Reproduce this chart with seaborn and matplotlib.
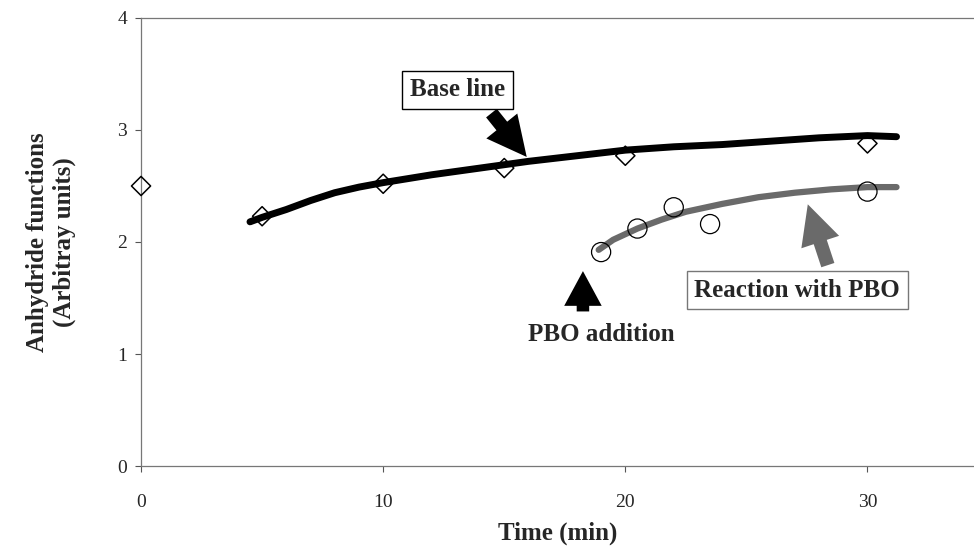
"""
Anhydride functions vs time, base line and reaction with PBO
Output: out.png
"""

import pandas as pd
import matplotlib.pyplot as plt
import seaborn as sns

# ── data ─────────────────────────────────────────────────────────────────────
base_t = [0, 5, 10, 15, 20, 30]
base_y = [2.50, 2.23, 2.52, 2.66, 2.77, 2.88]

pbo_t = [19.0, 20.5, 22.0, 23.5, 30.0]
pbo_y = [1.91, 2.12, 2.31, 2.16, 2.45]

# drawn trend curves
base_curve_t = [4.5, 5, 6, 7, 8, 9, 10, 12, 14, 16, 18, 20, 22, 24, 26, 28, 30, 31.2]
base_curve_y = [2.18, 2.22, 2.29, 2.37, 2.44, 2.49, 2.53, 2.60, 2.66, 2.72,
                2.77, 2.82, 2.85, 2.87, 2.90, 2.93, 2.95, 2.94]

pbo_curve_t = [18.9, 19.5, 20.5, 21.5, 22.5, 24, 25.5, 27, 28.5, 30, 31.2]
pbo_curve_y = [1.93, 2.02, 2.12, 2.20, 2.27, 2.34, 2.40, 2.44, 2.47, 2.49, 2.49]

sns.set_style("ticks")
plt.rcParams["font.family"] = ["Liberation Serif", "DejaVu Serif"]

fig = plt.figure(figsize=(9.74, 5.48), dpi=100)
ax = fig.add_axes([0.1448, 0.1496, 0.8552, 0.8176])

df_bc = pd.DataFrame({"t": base_curve_t, "y": base_curve_y})
df_pc = pd.DataFrame({"t": pbo_curve_t, "y": pbo_curve_y})
sns.lineplot(data=df_bc, x="t", y="y", ax=ax, color="black", linewidth=5,
             sort=True, estimator=None)
sns.lineplot(data=df_pc, x="t", y="y", ax=ax, color="#6a6a6a", linewidth=4.5,
             sort=True, estimator=None)

df_b = pd.DataFrame({"t": base_t, "y": base_y})
df_p = pd.DataFrame({"t": pbo_t, "y": pbo_y})
sns.scatterplot(data=df_b, x="t", y="y", ax=ax, marker="D", s=95,
                facecolor="none", edgecolor="black", linewidth=1.1, zorder=3,
                clip_on=False)
sns.scatterplot(data=df_p, x="t", y="y", ax=ax, marker="o", s=190,
                facecolor="none", edgecolor="black", linewidth=0.9, zorder=3)

ax.set_xlim(0, 34.4)
ax.set_ylim(0, 4)
ax.set_xticks([0, 10, 20, 30])
ax.set_yticks([0, 1, 2, 3, 4])
ax.tick_params(axis="both", labelsize=14, length=4, width=0.8, color="#555555")
ax.tick_params(axis="x", pad=16)
ax.tick_params(axis="y", pad=6)

for side in ["left", "bottom", "top"]:
    ax.spines[side].set_color("#777777")
    ax.spines[side].set_linewidth(0.9)
ax.spines["right"].set_visible(False)

ax.set_xlabel("Time (min)", fontsize=18, fontweight="bold")
ax.xaxis.set_label_coords(0.5, -0.125)
ax.set_ylabel("Anhydride functions\n(Arbitray units)", fontsize=18,
              fontweight="bold", labelpad=30)

# ── annotations ──────────────────────────────────────────────────────────────
ax.annotate("", xy=(16.0, 2.74), xytext=(14.4, 3.17),
            arrowprops=dict(arrowstyle="simple,head_width=1.3,head_length=1.3,tail_width=0.45",
                            mutation_scale=22, color="black", lw=0))
ax.text(13.07, 3.36, "Base line", fontsize=18, fontweight="bold", ha="center",
        va="center",
        bbox=dict(boxstyle="square,pad=0.3", facecolor="white",
                  edgecolor="black", linewidth=1.0))

ax.annotate("", xy=(27.5, 2.36), xytext=(28.4, 1.77),
            arrowprops=dict(arrowstyle="simple,head_width=1.3,head_length=1.3,tail_width=0.45",
                            mutation_scale=22, color="#6a6a6a", lw=0))
ax.text(27.1, 1.57, "Reaction with PBO", fontsize=18, fontweight="bold",
        ha="center", va="center",
        bbox=dict(boxstyle="square,pad=0.3", facecolor="white",
                  edgecolor="#777777", linewidth=1.0))

ax.annotate("", xy=(18.25, 1.74), xytext=(18.25, 1.38),
            arrowprops=dict(arrowstyle="simple,head_width=1.35,head_length=1.25,tail_width=0.45",
                            mutation_scale=20, color="black", lw=0,
                            shrinkA=0, shrinkB=0))
ax.text(19.0, 1.17, "PBO addition", fontsize=18, fontweight="bold",
        ha="center", va="center")

plt.savefig("out.png", dpi=100)
plt.close()
